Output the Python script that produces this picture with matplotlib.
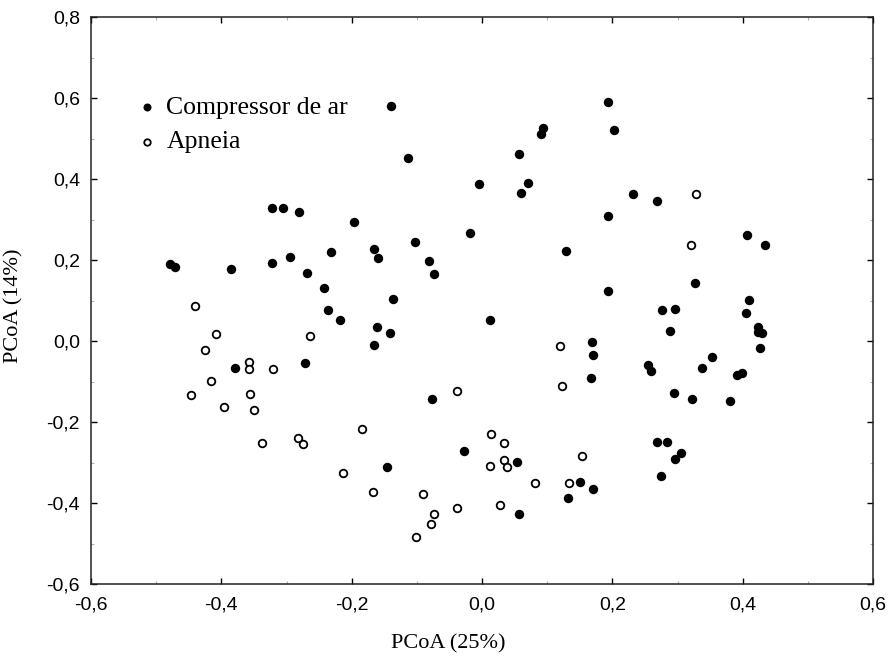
import numpy as np
import matplotlib
matplotlib.use("Agg")
import matplotlib.pyplot as plt
from matplotlib.ticker import MultipleLocator, FuncFormatter

# Compressor de ar (pontos cheios)
comp_x = [-0.323, -0.306, -0.281, -0.479, -0.471, -0.385, -0.323, -0.295, -0.232, -0.268,
          -0.243, -0.237, -0.218, -0.379, -0.272, -0.139, -0.113, 0.093, 0.091, 0.056,
          -0.004, 0.070, 0.060, -0.197, -0.019, 0.129, -0.166, -0.159, -0.103, -0.082,
          -0.073, -0.137, -0.161, -0.141, -0.166, 0.012, 0.194, 0.203, 0.231, 0.269,
          0.194, 0.407, 0.434, 0.194, 0.327, 0.409, 0.276, 0.296, 0.405, 0.289,
          0.423, 0.423, 0.429, 0.427, 0.169, 0.171, 0.254, 0.260, 0.353, 0.338,
          0.167, 0.392, 0.399, 0.294, 0.322, 0.380, 0.269, 0.284, 0.305, 0.296,
          0.274, 0.150, 0.171, 0.132, -0.077, -0.027, 0.054, -0.146, 0.056]
comp_y = [0.329, 0.329, 0.319, 0.191, 0.183, 0.177, 0.194, 0.208, 0.220, 0.169,
          0.130, 0.077, 0.052, -0.066, -0.054, 0.580, 0.451, 0.526, 0.512, 0.462,
          0.387, 0.390, 0.365, 0.295, 0.266, 0.223, 0.227, 0.205, 0.244, 0.198,
          0.166, 0.105, 0.034, 0.019, -0.009, 0.052, 0.590, 0.522, 0.362, 0.347,
          0.308, 0.262, 0.237, 0.124, 0.144, 0.101, 0.077, 0.080, 0.069, 0.026,
          0.035, 0.023, 0.019, -0.016, -0.003, -0.034, -0.059, -0.073, -0.040, -0.067,
          -0.091, -0.084, -0.080, -0.127, -0.142, -0.148, -0.248, -0.248, -0.276, -0.291,
          -0.334, -0.347, -0.365, -0.387, -0.144, -0.272, -0.298, -0.312, -0.426]

# Apneia (pontos vazios)
apn_x = [-0.440, -0.408, -0.264, -0.425, -0.358, -0.358, -0.321, -0.416, -0.447, -0.356,
         -0.396, -0.350, -0.337, -0.283, -0.274, 0.120, 0.329, 0.320, 0.122, -0.039,
         -0.184, 0.014, 0.034, 0.034, 0.038, 0.012, -0.213, -0.168, -0.091, 0.082,
         0.134, 0.153, 0.027, -0.039, -0.073, -0.079, -0.101]
apn_y = [0.087, 0.017, 0.013, -0.023, -0.051, -0.070, -0.069, -0.098, -0.134, -0.130,
         -0.162, -0.169, -0.251, -0.240, -0.255, -0.012, 0.362, 0.238, -0.111, -0.123,
         -0.216, -0.230, -0.251, -0.294, -0.312, -0.309, -0.326, -0.373, -0.377, -0.351,
         -0.351, -0.284, -0.405, -0.412, -0.426, -0.451, -0.484]

labels = ["Compressor de ar", "Apneia"]

fig = plt.figure(figsize=(8.89, 6.57), dpi=100)
ax = fig.add_axes([0.1024, 0.111, 0.8796, 0.863])

ax.scatter(comp_x, comp_y, s=46, c="black", linewidths=0, label=labels[0], zorder=3)
ax.scatter(apn_x, apn_y, s=30, facecolors="white", edgecolors="black",
           linewidths=1.3, label=labels[1], zorder=3)

ax.set_xlim(-0.6, 0.6)
ax.set_ylim(-0.6, 0.8)

# ticks para dentro, com virgula decimal
fmt = FuncFormatter(lambda v, p: ("%.1f" % (0.0 if abs(v) < 1e-9 else v)).replace(".", ","))
ax.xaxis.set_major_locator(MultipleLocator(0.2))
ax.yaxis.set_major_locator(MultipleLocator(0.2))
ax.xaxis.set_minor_locator(MultipleLocator(0.1))
ax.yaxis.set_minor_locator(MultipleLocator(0.1))
ax.xaxis.set_major_formatter(fmt)
ax.yaxis.set_major_formatter(fmt)
ax.tick_params(which="both", direction="in", top=True, right=True)
ax.tick_params(which="major", length=4, width=1, labelsize=14)
ax.tick_params(axis="x", which="major", pad=9)
ax.tick_params(axis="y", which="major", pad=8)
ax.tick_params(which="minor", length=2.5, width=0.8, color="#b0b0b0")
for lab in ax.get_xticklabels() + ax.get_yticklabels():
    lab.set_family("Liberation Sans")

for sp in ax.spines.values():
    sp.set_linewidth(1.1)
    sp.set_color("#222222")

ax.set_xlabel("PCoA (25%)", family="Liberation Serif", fontsize=16)
ax.xaxis.set_label_coords(0.457, -0.088)
ax.set_ylabel("PCoA (14%)", family="Liberation Serif", fontsize=16)
ax.yaxis.set_label_coords(-0.087, 0.49)

ax.legend(loc="upper left", bbox_to_anchor=(0.062, 0.861), frameon=False,
          prop={"family": "Liberation Serif", "size": 18.5},
          markerscale=0.85, handlelength=0.6, handletextpad=0.45,
          labelspacing=0.45, borderpad=0, borderaxespad=0)

plt.savefig("out.png", dpi=100)
